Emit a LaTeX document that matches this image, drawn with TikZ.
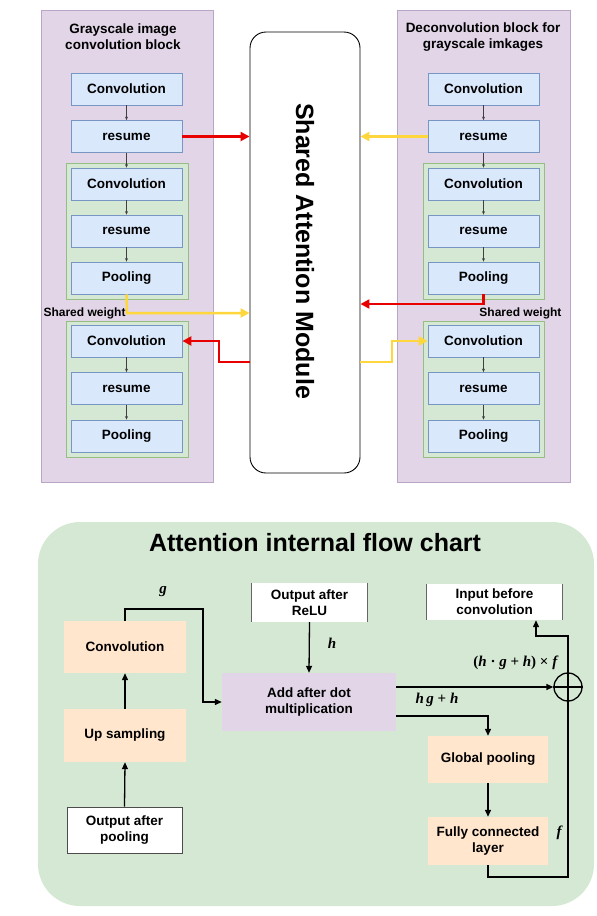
\documentclass[tikz,border=0pt]{standalone}
\usepackage{fontspec}
\setmainfont{Liberation Sans}
\newfontfamily\tms{Liberation Serif}
\usetikzlibrary{arrows.meta}
\definecolor{panelpurple}{RGB}{225,213,231}
\definecolor{panelborder}{RGB}{185,165,198}
\definecolor{bluefill}{RGB}{218,232,252}
\definecolor{blueborder}{RGB}{120,150,195}
\definecolor{greenfill}{RGB}{213,232,212}
\definecolor{greenborder}{RGB}{150,190,130}
\definecolor{orangefill}{RGB}{255,230,204}
\definecolor{myred}{RGB}{232,0,0}
\definecolor{myyellow}{RGB}{255,214,60}
\begin{document}
\begin{tikzpicture}[x=1pt,y=-1pt,
  boxfont/.style={font=\bfseries\fontsize{13.5}{16}\selectfont},
  bluebox/.style={boxfont,draw=blueborder,fill=bluefill,line width=0.8pt,minimum width=111pt,minimum height=32pt,inner sep=0pt},
  grp/.style={draw=greenborder,fill=greenfill,line width=0.8pt},
  panel/.style={draw=panelborder,fill=panelpurple,line width=0.8pt},
  thin/.style={draw=black!75,line width=0.7pt,-{Stealth[length=3.5pt,width=3pt]}},
  redarr/.style={draw=myred,line width=2.5pt,-{Triangle[length=9pt,width=9pt]}},
  yelarr/.style={draw=myyellow,line width=2.5pt,-{Triangle[length=9pt,width=9pt]}},
  orbox/.style={boxfont,fill=orangefill,inner sep=0pt,align=center},
  whbox/.style={boxfont,fill=white,inner sep=0pt,align=center},
  blk/.style={draw=black,line width=1.3pt,-{Triangle[length=7pt,width=6pt]}},
  blkline/.style={draw=black,line width=1.3pt},
  mlab/.style={font=\tms\bfseries\itshape\fontsize{15}{18}\selectfont},
]
\useasboundingbox (0,0) rectangle (597,916);
% ---------- top panels ----------
\fill[panel] (41,10) rectangle (213,482);
\fill[panel] (397,10) rectangle (570,482);
\node[boxfont,align=center] (ltitle) at (123,37) {Grayscale image\\convolution block};
\node[boxfont,align=center] (rtitle) at (483,37) {Deconvolution block for\\grayscale imkages};
% green groups
\fill[grp] (66,163) rectangle (188,299);
\fill[grp] (66,321) rectangle (188,457);
\fill[grp] (423,163) rectangle (544,299);
\fill[grp] (423,321) rectangle (544,457);
\node[boxfont,font=\bfseries\fontsize{12}{14}\selectfont,anchor=west] (lsw) at (40,313) {Shared weight};
\node[boxfont,font=\bfseries\fontsize{12}{14}\selectfont,anchor=east] (rsw) at (565,313) {Shared weight};
% left column
\node[bluebox] (lc0) at (126.5,89) {Convolution};
\node[bluebox] (lr0) at (126.5,136.5) {resume};
\node[bluebox] (lc1) at (126.5,184) {Convolution};
\node[bluebox] (lr1) at (126.5,231) {resume};
\node[bluebox] (lp1) at (126.5,278) {Pooling};
\node[bluebox] (lc2) at (126.5,341) {Convolution};
\node[bluebox] (lr2) at (126.5,388.5) {resume};
\node[bluebox] (lp2) at (126.5,436) {Pooling};
% right column
\node[bluebox] (rc0) at (483.5,89) {Convolution};
\node[bluebox] (rr0) at (483.5,136.5) {resume};
\node[bluebox] (rc1) at (483.5,184) {Convolution};
\node[bluebox] (rr1) at (483.5,231) {resume};
\node[bluebox] (rp1) at (483.5,278) {Pooling};
\node[bluebox] (rc2) at (483.5,341) {Convolution};
\node[bluebox] (rr2) at (483.5,388.5) {resume};
\node[bluebox] (rp2) at (483.5,436) {Pooling};
% thin arrows
\foreach \a/\b in {lc0/lr0,lr0/lc1,lc1/lr1,lr1/lp1,lc2/lr2,lr2/lp2,rc0/rr0,rr0/rc1,rc1/rr1,rr1/rp1,rc2/rr2,rr2/rp2}
  \draw[thin] (\a.south) -- (\b.north);
% module
\node[draw=black,fill=white,line width=0.9pt,rounded corners=16pt,minimum width=110pt,minimum height=441pt,inner sep=0pt] (mod) at (305,252.5) {};
\node[rotate=-90,font=\bfseries\fontsize{25}{29}\selectfont] (modtxt) at (305,251) {Shared Attention Module};
% coloured connectors
\draw[redarr] (lr0.east) -- (lr0.east -| mod.west);
\draw[yelarr] (rr0.west) -- (rr0.west -| mod.east);
\coordinate (ya) at (127,313);
\draw[yelarr] (lp1.south) -- (ya) -- (ya -| mod.west);
\coordinate (ra) at (483.5,304);
\draw[redarr] (rp1.south) -- (ra) -- (ra -| mod.east);
\coordinate (rb) at (250,362);
\draw[redarr] (rb) -- (219,362) -- (219,341) -- (lc2.east);
\coordinate (yb) at (360,362);
\draw[yelarr] (yb) -- (392,362) -- (392,341) -- (rc2.west);
% ---------- bottom section ----------
\fill[greenfill,rounded corners=42pt] (38,522) rectangle (594,906);
\node[font=\bfseries\fontsize{25}{29}\selectfont] (btitle) at (315,543) {Attention internal flow chart};
\node[orbox,minimum width=122pt,minimum height=52pt] (bconv) at (125,647) {Convolution};
\node[orbox,minimum width=122pt,minimum height=53pt] (bups) at (125,735.5) {Up sampling};
\node[whbox,draw=black!70,line width=0.8pt,minimum width=115pt,minimum height=46pt] (bpool) at (124.5,830) {Output after\\pooling};
\node[whbox,minimum width=115pt,minimum height=39pt] (brelu) at (309.5,602.5) {Output after\\ReLU};
\draw[black!60,line width=0.8pt] (brelu.north west) -- (brelu.south west) (brelu.north east) -- (brelu.south east);
\node[whbox,minimum width=135pt,minimum height=36pt] (binp) at (494.5,602) {Input before\\convolution};
\draw[black!60,line width=0.8pt] (binp.north west) -- (binp.south west) (binp.north east) -- (binp.south east);
\node[boxfont,fill=panelpurple,inner sep=0pt,align=center,minimum width=174pt,minimum height=58pt] (badd) at (309,702) {Add after dot\\multiplication};
\node[orbox,minimum width=120pt,minimum height=47pt] (bgp) at (488,759.5) {Global pooling};
\node[orbox,minimum width=120pt,minimum height=48pt] (bfc) at (488,841) {Fully connected\\layer};
\node[circle,draw=black,line width=1.3pt,minimum size=28pt,inner sep=0pt] (plus) at (568,687) {};
\draw[blkline] (plus.north) -- (plus.south) (plus.west) -- (plus.east);
% bottom arrows
\draw[blk] (bpool.north) -- (bups.south);
\draw[blk] (bups.north) -- (bconv.south);
\draw[blk] (bconv.north) -- (125,609) -- (203,609) -- (203,702) -- (badd.west);
\draw[blk] (brelu.south) -- (badd.north);
\draw[blk] (badd.east |- plus.west) -- (plus.west);
\coordinate (hg) at (396,716);
\draw[blk] (hg) -| (bgp.north);
\draw[blk] (bgp.south) -- (bfc.north);
\draw[blkline] (bfc.south) -- (488,877) -| (plus.south);
\draw[blk] (plus.north) -- (568,636) -| (binp.south -| 536,0);
% math labels
\node[mlab] (lg) at (163,592) {g};
\node[mlab] (lh) at (332,643) {h};
\node[font=\tms\bfseries\fontsize{15}{18}\selectfont] (lhg) at (437,700) {\textit{h\,g} + \textit{h}};
\node[font=\tms\bfseries\fontsize{15}{18}\selectfont] (lhgf) at (516,663) {(\textit{h} · \textit{g} + \textit{h}) × \textit{f}};
\node[mlab] (lf) at (559,833) {f};
\end{tikzpicture}
\end{document}
